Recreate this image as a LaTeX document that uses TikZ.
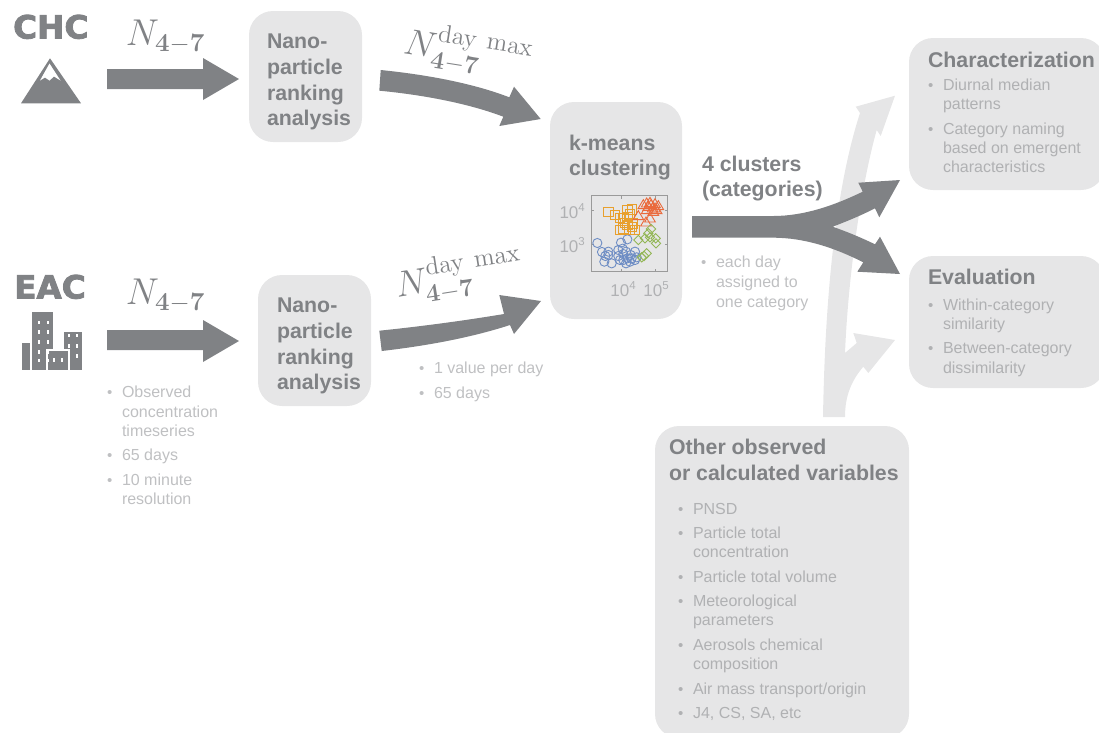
\documentclass[tikz,border=0pt]{standalone}
\usepackage[no-math]{fontspec}
\usepackage{amsmath}
\setmainfont{Liberation Sans}
\newfontfamily\heavyfont{DejaVu Sans Bold}[FakeBold=2.5]
\definecolor{boxgray}{HTML}{E6E6E7}
\definecolor{darkgray}{HTML}{808285}
\definecolor{paletxt}{HTML}{BFC0C2}
\definecolor{intxt}{HTML}{B0B1B3}
\definecolor{mblue}{HTML}{6E8DC4}
\definecolor{morange}{HTML}{E8A02E}
\definecolor{mred}{HTML}{EA6A3C}
\definecolor{mgreen}{HTML}{93B655}
\definecolor{axgray}{HTML}{9A9A9A}
\newcount\tlabel
\tikzset{
  x=1pt,y=-1pt,
  panel/.style={fill=boxgray,rounded corners=24pt,inner sep=0pt,draw=none},
  bigarrow/.style={fill=darkgray,draw=none},
  palearrow/.style={fill=boxgray,draw=none},
  lineb/.style={anchor=base west,inner sep=0pt,outer sep=0pt,text=darkgray,font=\fontsize{21.3}{25}\selectfont\bfseries},
  linet/.style={anchor=base west,inner sep=0pt,outer sep=0pt,font=\fontsize{16}{19}\selectfont},
  linedot/.style={anchor=base west,inner sep=0pt,outer sep=0pt,font=\fontsize{15}{19}\selectfont},
  mathlabel/.style={inner sep=0pt,text=darkgray,font=\fontsize{20.74}{24}\selectfont,scale=1.8},
  mathlabelb/.style={inner sep=0pt,text=darkgray,font=\fontsize{20.74}{24}\selectfont,scale=1.76},
  ticklabel/.style={inner sep=0pt,text=intxt,font=\fontsize{17}{19}\selectfont},
  sitelabel/.style={anchor=base west,inner sep=0pt,text=darkgray,font=\fontsize{32}{36}\selectfont\heavyfont,xscale=1.02},
  mk/.style={line width=0.9pt,fill=none},
}
\newcommand{\headline}[3]{\global\advance\tlabel by 1 \node[lineb] (t\the\tlabel) at (#1,#2) {#3};}
\newcommand{\bodyline}[4]{\global\advance\tlabel by 1 \node[linet,text=#4] (t\the\tlabel) at (#1,#2) {#3};}
\newcommand{\dotline}[4]{\global\advance\tlabel by 1 \node[linedot,text=#4] (t\the\tlabel) at (#1,#2) {•};\bodyline{\numexpr#1+15\relax}{#2}{#3}{#4}}
\newcommand{\tickexp}[1]{10\raisebox{6.5pt}{\fontsize{11.5}{12}\selectfont #1}}
\begin{document}
\begin{tikzpicture}
\path[use as bounding box,clip] (0,0) rectangle (1099,732);

% panels
\node[panel,minimum width=113pt,minimum height=131pt] (nano1) at (305.5,76.5) {};
\node[panel,minimum width=113pt,minimum height=131pt] (nano2) at (314.5,340.5) {};
\node[panel,minimum width=132pt,minimum height=217pt] (kmeans) at (616,210.5) {};
\node[panel,minimum width=196pt,minimum height=152pt] (charac) at (1007,114) {};
\node[panel,minimum width=196pt,minimum height=132pt] (evalbox) at (1007,322) {};
\node[panel,minimum width=254pt,minimum height=312pt] (other) at (782,582) {};

% pale arrow
\path[palearrow] (823,417) .. controls (825,300) and (835,190) .. (860,113) -- (855.7,106.7) -- (895,95.7) -- (880.7,136) -- (876.7,130) .. controls (860,190) and (848,280) .. (845,353) -- (856.7,343) -- (853.3,333) -- (895,340) -- (868.3,373) -- (863.3,366.7) .. controls (852,380) and (845,395) .. (845,417) -- cycle;

% straight arrows
\path[bigarrow] (107,69) -- (203,69) -- (203,58) -- (239,79) -- (203,100) -- (203,89) -- (107,89) -- cycle;
\path[bigarrow] (107,330) -- (203,330) -- (203,320) -- (239,341) -- (203,362) -- (203,350) -- (107,350) -- cycle;

% curved arrows
\path[bigarrow] (380.7,70) .. controls (430,75) and (475,84) .. (509.3,97.3) -- (514,86.7) -- (540.7,119) -- (499.3,126) -- (503.3,116.7) .. controls (470,104) and (425,95) .. (379.3,90.7) -- cycle;
\path[bigarrow] (379.3,330.7) .. controls (425,326) and (468,320) .. (504,314) -- (499.3,295) -- (541,301) -- (514,334) -- (510,325) .. controls (470,338) and (425,346) .. (381.7,351) -- cycle;

% fork
\path[bigarrow] (692,216) -- (773,216) .. controls (805,216) and (835,205) .. (862.7,191.7) -- (858.3,182.7) -- (900,180) -- (879.3,217.3) -- (875,208.3) .. controls (860,216) and (845,222) .. (832.7,226.7) .. controls (845,231) and (860,237) .. (875,244.3) -- (880,236.7) -- (900,274) -- (857.3,271.7) -- (863.3,262.3) .. controls (835,248) and (805,237.7) .. (773,237.7) -- (692,237.7) -- cycle;

% site labels
\node[sitelabel] (chc) at (13,38.5) {CHC};
\node[sitelabel] (eac) at (14,298.5) {EAC};

% mountain
\fill[darkgray] (50,58.3) -- (21,103.3) -- (81,103.3) -- cycle;
\fill[white] (49.5,63.5) -- (40,80.5) -- (45,77.5) -- (49.5,80.5) -- (54,76.5) -- (60.5,80.5) -- cycle;

% buildings
\fill[darkgray] (32.3,312.3) rectangle (52.7,370);
\fill[darkgray] (21.7,343.3) rectangle (30,370);
\fill[darkgray] (64,331.7) rectangle (81.7,370);
\fill[white] (46,348.5) rectangle (69.5,370);
\fill[darkgray] (47.7,351) rectangle (67.7,370);
\foreach \wx in {37.5,46.5} \foreach \wy in {320.5,330,340,350,358.5}
  \fill[white] (\wx,\wy) rectangle +(2,3.5);
\foreach \wx in {68,76} \foreach \wy in {333.5,344,354}
  \fill[white] (\wx,\wy) rectangle +(2,3.5);
\fill[white] (52.5,358) rectangle +(2,3.5);
\fill[white] (60.5,358) rectangle +(2,3.5);

% math labels
\node[mathlabel] (n1) at (165.5,37) {$N_{\mathbf{4-7}}$};
\node[mathlabel] (n2) at (165.5,296) {$N_{\mathbf{4-7}}$};
\node[mathlabelb,rotate=-9] (n3) at (468,52) {$N^{\mathrm{day\ max}}_{\mathbf{4-7}}$};
\node[mathlabelb,rotate=9] (n4) at (459,276) {$N^{\mathrm{day\ max}}_{\mathbf{4-7}}$};

% box headings
\headline{267}{48}{Nano-}
\headline{267}{74}{particle}
\headline{267}{100}{ranking}
\headline{267}{125}{analysis}
\headline{277}{312}{Nano-}
\headline{277}{338}{particle}
\headline{277}{364}{ranking}
\headline{277}{389}{analysis}
\headline{569}{150}{k-means}
\headline{569}{175}{clustering}
\headline{702}{171}{4 clusters}
\headline{702}{196}{(categories)}
\headline{928}{67}{Characterization}
\headline{928}{284}{Evaluation}
\headline{669}{454}{Other observed}
\headline{669}{480}{or calculated variables}

% lists on white
\dotline{107}{397}{Observed}{paletxt}
\bodyline{122}{417}{concentration}{paletxt}
\bodyline{122}{436}{timeseries}{paletxt}
\dotline{107}{460}{65 days}{paletxt}
\dotline{107}{485}{10 minute}{paletxt}
\bodyline{122}{504}{resolution}{paletxt}
\dotline{419}{373}{1 value per day}{paletxt}
\dotline{419}{398}{65 days}{paletxt}
\dotline{701}{267}{each day}{paletxt}
\bodyline{716}{287}{assigned to}{paletxt}
\bodyline{716}{307}{one category}{paletxt}

% lists in panels
\dotline{928}{90}{Diurnal median}{intxt}
\bodyline{943}{109}{patterns}{intxt}
\dotline{928}{134}{Category naming}{intxt}
\bodyline{943}{153}{based on emergent}{intxt}
\bodyline{943}{172}{characteristics}{intxt}
\dotline{928}{310}{Within-category}{intxt}
\bodyline{943}{329}{similarity}{intxt}
\dotline{928}{353}{Between-category}{intxt}
\bodyline{943}{373}{dissimilarity}{intxt}
\dotline{678}{514}{PNSD}{intxt}
\dotline{678}{538}{Particle total}{intxt}
\bodyline{693}{557}{concentration}{intxt}
\dotline{678}{582}{Particle total volume}{intxt}
\dotline{678}{606}{Meteorological}{intxt}
\bodyline{693}{625}{parameters}{intxt}
\dotline{678}{650}{Aerosols chemical}{intxt}
\bodyline{693}{669}{composition}{intxt}
\dotline{678}{694}{Air mass transport/origin}{intxt}
\dotline{678}{718}{J4, CS, SA, etc}{intxt}

% scatter plot
\draw[axgray,line width=0.8pt] (591,195.7) rectangle (667.7,271.7);
\draw[axgray,line width=0.8pt] (591,210) -- (594,210) (667.7,210) -- (664.7,210) (591,244) -- (594,244) (667.7,244) -- (664.7,244);
\draw[axgray,line width=0.8pt] (621.7,271.7) -- (621.7,268.7) (655.7,271.7) -- (655.7,268.7) (621.7,195.7) -- (621.7,198.7) (655.7,195.7) -- (655.7,198.7);
\node[ticklabel,anchor=east] (y4) at (585,211) {\tickexp{4}};
\node[ticklabel,anchor=east] (y3) at (585,245) {\tickexp{3}};
\node[ticklabel] (x4) at (623,289) {\tickexp{4}};
\node[ticklabel] (x5) at (656,289) {\tickexp{5}};
\begin{scope}[shift={(540pt,-180pt)},x=0.3333pt,y=-0.3333pt]
\foreach \px/\py in {172/189,186/216,205/215,196/228,193/245,215/250,235/228,243/188,262/178,235/210,248/206,250/222,258/215,262/235,275/235,285/215,290/232,270/245,285/240,258/250,240/240,205/225,250/240,272/225}
  \draw[mk,mblue] (\px,\py) circle[radius=4.6pt];
\foreach \px/\py in {205/96,225/105,240/113,262/90,275/88,262/110,270/103,250/115,278/130,262/135,250/145,240/150,268/150,285/150,275/140,255/128}
  \draw[mk,morange] (\px-14,\py-14) rectangle (\px+14,\py+14);
\foreach \px/\py in {320/70,330/68,345/72,355/78,325/80,338/85,350/90,295/108,330/115,318/127,310/75,340/95,320/90,333/75,345/85}
  \draw[mk,mred] (\px,\py-16) -- (\px+16,\py+11) -- (\px-16,\py+11) -- cycle;
\foreach \px/\py in {333/147,325/160,295/180,315/175,330/172,347/175,348/190,320/220,305/232,312/228}
  \draw[mk,mgreen] (\px,\py-14) -- (\px+14,\py) -- (\px,\py+14) -- (\px-14,\py) -- cycle;
\end{scope}
\end{tikzpicture}
\end{document}
